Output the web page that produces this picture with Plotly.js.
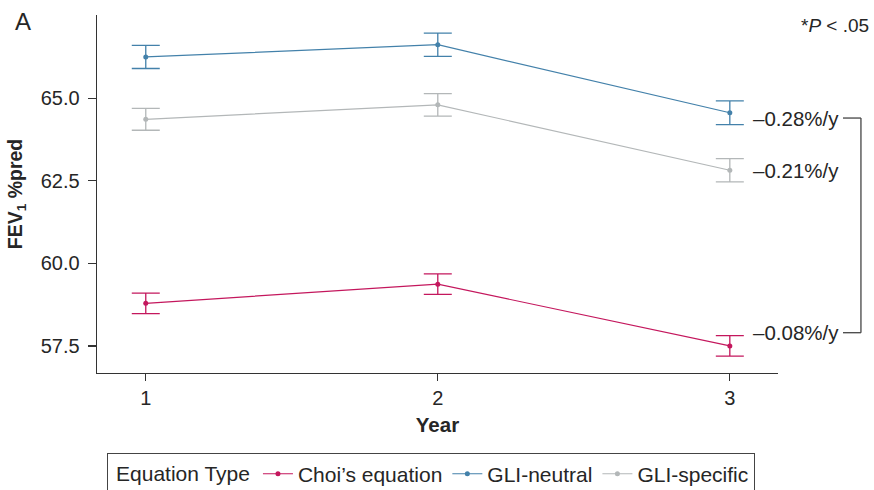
<!DOCTYPE html>
<html>
<head>
<meta charset="utf-8">
<script src="https://cdn.plot.ly/plotly-3.0.1.min.js"></script>
<style>
  html, body { margin: 0; padding: 0; background: #fff; }
  #chart { width: 874px; height: 490px; }
</style>
</head>
<body>
<div id="chart"></div>
<script>
// FEV1 %pred by year for three reference equations (mean ± error)
const years = [1, 2, 3];
const seriesNames = ["Choi\u2019s equation", "GLI-neutral", "GLI-specific"];
const choiMean = [58.79, 59.37, 57.50];
const choiErr = [0.31, 0.31, 0.31];
const neutralMean = [66.25, 66.62, 64.56];
const neutralErr = [0.35, 0.35, 0.36];
const specificMean = [64.36, 64.80, 62.82];
const specificErr = [0.33, 0.34, 0.35];
const slopeLabels = ["\u20130.08%/y", "\u20130.28%/y", "\u20130.21%/y"];
const yTicks = [57.5, 60.0, 62.5, 65.0];

const colors = ["#C4175D", "#4381AA", "#B3B7B8"];
const FONT = "Liberation Sans, Arial, Helvetica, sans-serif";
const TXT = "#262626";

function trace(name, y, err, color) {
  return {
    type: "scatter",
    mode: "lines+markers",
    name: name,
    x: years,
    y: y,
    line: { color: color, width: 1.2 },
    marker: { color: color, size: 5 },
    error_y: { type: "data", array: err, visible: true, color: color, thickness: 1.3, width: 14 }
  };
}

const data = [
  trace(seriesNames[0], choiMean, choiErr, colors[0]),
  trace(seriesNames[1], neutralMean, neutralErr, colors[1]),
  trace(seriesNames[2], specificMean, specificErr, colors[2])
];

// vertical placement of the slope labels next to the year-3 ends
const labelY = [57.90, 64.40, 62.82];
const bracketX0 = 1.0954, bracketX1 = 1.1218;

const annotations = slopeLabels.map((t, i) => ({
  xref: "paper", yref: "y", x: 0.960, y: labelY[i],
  xanchor: "left", yanchor: "middle", showarrow: false,
  text: t, font: { family: FONT, size: 20.5, color: TXT }
}));
annotations.push({
  xref: "paper", yref: "paper", x: 1.136, y: 0.972,
  xanchor: "right", yanchor: "middle", showarrow: false,
  text: "*<i>P</i> &lt; .05", font: { family: FONT, size: 19, color: TXT }
});
annotations.push({
  xref: "paper", yref: "paper", x: -0.124, y: 0.983,
  xanchor: "left", yanchor: "middle", showarrow: false,
  text: "A", font: { family: FONT, size: 24, color: TXT }
});

const bracketLine = { color: "#444", width: 1.3 };
const shapes = [
  { type: "line", xref: "paper", yref: "y", x0: bracketX0, x1: bracketX1, y0: labelY[1], y1: labelY[1], line: bracketLine },
  { type: "line", xref: "paper", yref: "y", x0: bracketX1, x1: bracketX1, y0: labelY[1], y1: labelY[0], line: bracketLine },
  { type: "line", xref: "paper", yref: "y", x0: bracketX0, x1: bracketX1, y0: labelY[0], y1: labelY[0], line: bracketLine }
];

const layout = {
  width: 874,
  height: 490,
  margin: { l: 97, r: 96, t: 15, b: 117, autoexpand: false },
  paper_bgcolor: "#fff",
  plot_bgcolor: "#fff",
  font: { family: FONT, size: 20, color: TXT },
  showlegend: true,
  xaxis: {
    range: [0.833, 3.165],
    tickvals: years,
    ticktext: years.map(String),
    showgrid: false,
    zeroline: false,
    showline: true,
    linecolor: "#333",
    linewidth: 1.3,
    ticks: "outside",
    ticklen: 7,
    tickwidth: 1.3,
    tickcolor: "#333",
    tickfont: { family: FONT, size: 20, color: TXT },
    title: { text: "<b>Year</b>", font: { family: FONT, size: 20.5, color: TXT }, standoff: 9 }
  },
  yaxis: {
    range: [56.68, 67.52],
    tickvals: yTicks,
    tickformat: ".1f",
    showgrid: false,
    zeroline: false,
    showline: true,
    linecolor: "#333",
    linewidth: 1.3,
    ticks: "outside",
    ticklen: 8,
    tickwidth: 1.3,
    tickcolor: "#333",
    ticklabelstandoff: 4,
    tickfont: { family: FONT, size: 20, color: TXT },
    title: { text: "<b>FEV<sub>1</sub> %pred</b>", font: { family: FONT, size: 19.5, color: TXT }, standoff: 13 }
  },
  legend: {
    orientation: "h",
    x: 0.015, xanchor: "left",
    y: -0.2224, yanchor: "top",
    bordercolor: "#444",
    borderwidth: 1,
    bgcolor: "#fff",
    font: { family: FONT, size: 21, color: TXT },
    title: { text: " Equation Type", side: "left", font: { family: FONT, size: 21, color: TXT } }
  },
  annotations: annotations,
  shapes: shapes
};

Plotly.newPlot("chart", data, layout, { staticPlot: true, displayModeBar: false });
</script>
</body>
</html>
